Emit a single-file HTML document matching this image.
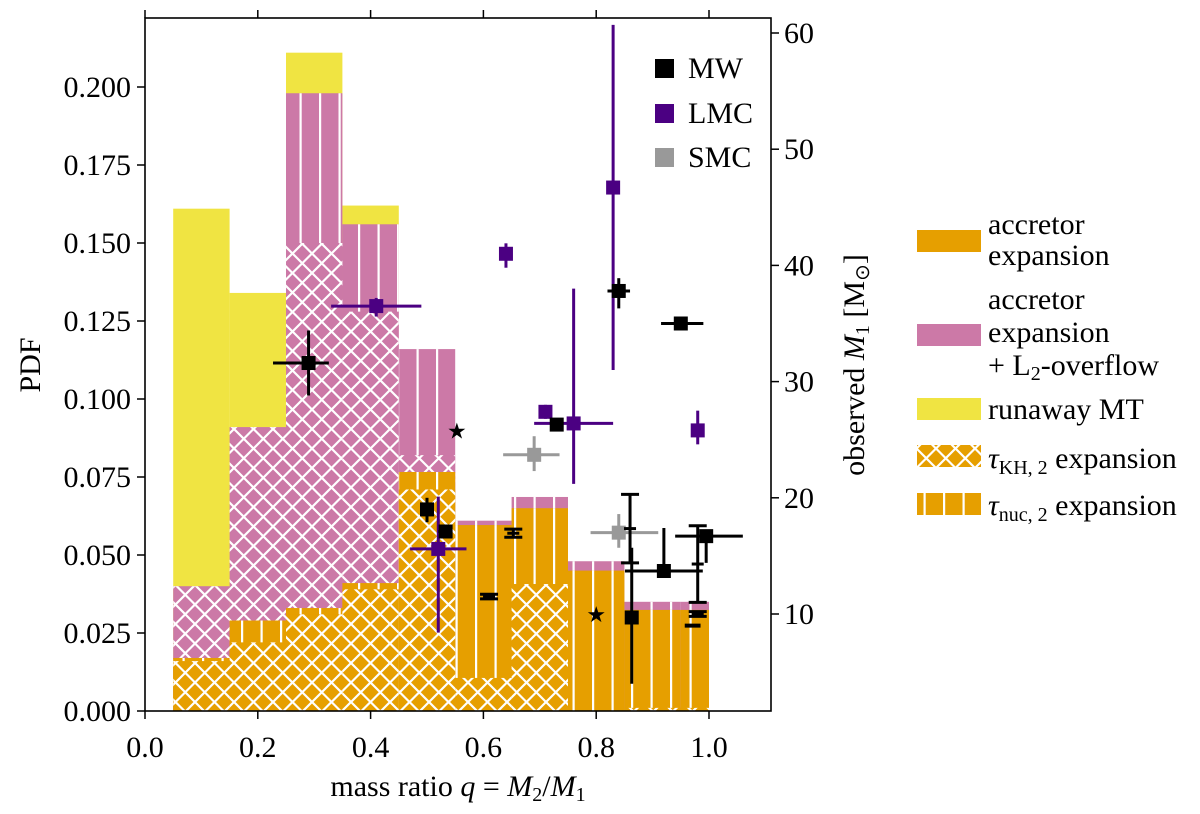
<!DOCTYPE html>
<html><head><meta charset="utf-8"><style>
body{margin:0;background:#fff}
svg{display:block;font-family:"Liberation Serif","DejaVu Serif",serif}
</style></head><body>
<svg id="c" width="1200" height="814" viewBox="0 0 1200 814" xmlns="http://www.w3.org/2000/svg">
<defs>
<pattern id="xh" patternUnits="userSpaceOnUse" width="19.5" height="19.5">
<path d="M-2,-2 L21.5,21.5 M-2,21.5 L21.5,-2 M-12,7.75 L7.75,-12 M11.75,31.5 L31.5,11.75 M-12,11.75 L7.75,31.5 M11.75,-12 L31.5,7.75" stroke="#fff" stroke-width="2.2"/>
</pattern>
<pattern id="vh" patternUnits="userSpaceOnUse" width="19.5" height="20" x="7">
<rect x="0" y="0" width="2.2" height="20" fill="#fff"/>
</pattern>
</defs>
<g id="bars"></g>
<g id="pts"></g>
<g id="axes"></g>
</svg>
<script>
const binEdges=[0.05,0.15,0.25,0.35,0.45,0.55,0.65,0.75,0.85,0.95,1.0];
const yellowTop=[0.161,0.134,0.211,0.162,0,0,0,0,0,0];
const pinkNuc=[0.017,0.029,0.198,0.156,0.116,0.061,0.0686,0.048,0.035,0.035];
const pinkKH=[0.040,0.091,0.150,0.128,0.082,0.059,0.041,0,0.001,0.001];
const orangeNuc=[0.017,0.029,0.033,0.041,0.0766,0.0596,0.065,0.045,0.0324,0.0324];
const orangeKH=[0.016,0.022,0.031,0.039,0.071,0.0106,0.0407,0,0.001,0.001];
const xTicks=[0.0,0.2,0.4,0.6,0.8,1.0];
const yTicks=[0,0.025,0.05,0.075,0.1,0.125,0.15,0.175,0.2];
const rTicks=[10,20,30,40,50,60];
// points: q, M, xlo, xhi, Mlo, Mhi
const mwPts=[[0.29,31.6,0.227,0.326,28.8,34.4],[0.50,19.0,0.50,0.50,17.9,20.0],[0.533,17.1,0.52,0.545,17.1,17.1],[0.73,26.3,0.72,0.74,26.3,26.3],[0.84,37.8,0.82,0.86,36.3,38.9],[0.95,35.0,0.915,0.99,34.4,35.6],[0.92,13.7,0.851,0.989,13.3,17.4],[0.863,9.7,0.863,0.863,4.0,15.7],[0.995,16.7,0.94,1.06,14.4,16.9]];
const lmcPts=[[0.41,36.5,0.33,0.49,35.6,37.2],[0.64,41.0,0.64,0.64,39.8,41.9],[0.83,46.7,0.83,0.83,31.0,60.7],[0.71,27.4,0.705,0.715,26.8,28.0],[0.76,26.4,0.69,0.83,21.2,38.0],[0.98,25.8,0.98,0.98,24.6,27.5],[0.52,15.6,0.47,0.57,8.4,20.1]];
const smcPts=[[0.69,23.7,0.635,0.735,22.3,25.3],[0.84,17.0,0.79,0.91,15.7,18.6]];
const capBars=[[0.86,14.4,20.3],[0.98,11.0,17.6],[0.653,16.6,17.3],[0.61,11.3,11.7],[0.98,9.8,10.2]];
const starPts=[[0.553,25.7],[0.80,9.9]];
const X=q=>145+q*564, Y=v=>711-v*3120, R=m=>614-(m-10)*11.62;
const NS='http://www.w3.org/2000/svg';
function mk(t,a,p){const e=document.createElementNS(NS,t);for(const k in a)e.setAttribute(k,a[k]);p.appendChild(e);return e;}
const gb=document.getElementById('bars');
function layer(arr,fill,hatch,name){
 for(let i=0;i<arr.length;i++){if(arr[i]<=0)continue;
  const x0=X(binEdges[i]),x1=X(binEdges[i+1]),y=Y(arr[i]);
  const r=mk('rect',{x:x0,y:y,width:x1-x0,height:711-y,fill:fill},gb);
  
  
  if(hatch){const h=mk('rect',{x:x0,y:y,width:x1-x0,height:711-y,fill:'url(#'+hatch+')'},gb);
   
   }
 }}
layer(yellowTop,'#f0e442',null,'runaway-mt');
layer(pinkNuc,'#cc79a7','vh','l2-nuc');
layer(pinkKH,'#cc79a7','xh','l2-kh');
layer(orangeNuc,'#e69f00','vh','accretor-nuc');
layer(orangeKH,'#e69f00','xh','accretor-kh');
const gp=document.getElementById('pts');
function pts(arr,col,name){arr.forEach(p=>{
 const g=mk('g',{stroke:col,'stroke-width':3},gp);
 
 
 mk('line',{x1:X(p[2]),x2:X(p[3]),y1:R(p[1]),y2:R(p[1])},g);
 mk('line',{x1:X(p[0]),x2:X(p[0]),y1:R(p[4]),y2:R(p[5])},g);
 mk('rect',{x:X(p[0])-7,y:R(p[1])-7,width:14,height:14,fill:col,stroke:'none'},g);
});}
pts(smcPts,'#999999','smc');
pts(lmcPts,'#4b0082','lmc');
pts(mwPts,'#000','mw');
capBars.forEach(c=>{const g=mk('g',{stroke:'#000','stroke-width':3},gp);
 
 
 const x=X(c[0]);mk('line',{x1:x,x2:x,y1:R(c[1]),y2:R(c[2])},g);
 mk('line',{x1:x-9,x2:x+9,y1:R(c[1]),y2:R(c[1])},g);
 mk('line',{x1:x-9,x2:x+9,y1:R(c[2]),y2:R(c[2])},g);
 mk('line',{x1:x-6,x2:x+6,y1:(R(c[1])+R(c[2]))/2,y2:(R(c[1])+R(c[2]))/2},g);});
const d=mk('line',{x1:X(0.957),x2:X(0.985),y1:R(9.0),y2:R(9.0),stroke:'#000','stroke-width':4},gp);


starPts.forEach(s=>{const t=mk('text',{x:X(s[0]),y:R(s[1])+7,'font-size':22,'text-anchor':'middle','font-family':'DejaVu Sans'},gp);t.textContent='★';
 
 });
const ga=document.getElementById('axes');
mk('rect',{x:145,y:18,width:626,height:693,fill:'none',stroke:'#000','stroke-width':1.6},ga);
xTicks.forEach(t=>{const x=X(t);
 mk('line',{x1:x,x2:x,y1:711,y2:719,stroke:'#000','stroke-width':1.5},ga);
 mk('line',{x1:x,x2:x,y1:18,y2:10,stroke:'#000','stroke-width':1.5},ga);
 const e=mk('text',{x:x,y:757,'font-size':30,'text-anchor':'middle'},ga);e.textContent=t.toFixed(1);
 
 });
yTicks.forEach(t=>{const y=Y(t);
 mk('line',{x1:145,x2:137,y1:y,y2:y,stroke:'#000','stroke-width':1.5},ga);
 const e=mk('text',{x:131,y:y+10,'font-size':30,'text-anchor':'end'},ga);e.textContent=t.toFixed(3);
 
 });
rTicks.forEach(t=>{const y=R(t);
 mk('line',{x1:771,x2:779,y1:y,y2:y,stroke:'#000','stroke-width':1.5},ga);
 const e=mk('text',{x:784,y:y+10,'font-size':30},ga);e.textContent=t;
 
 });
</script>
<svg style="position:absolute;left:0;top:0" width="1200" height="814">
<g font-family="Liberation Serif, serif" font-size="30">
<text x="458" y="796" text-anchor="middle">mass ratio <tspan font-style="italic">q</tspan> = <tspan font-style="italic">M</tspan><tspan font-size="20" dy="5">2</tspan><tspan dy="-5">/</tspan><tspan font-style="italic">M</tspan><tspan font-size="20" dy="5">1</tspan></text>
<text transform="translate(40,365) rotate(-90)" text-anchor="middle">PDF</text>
<text transform="translate(864,365) rotate(-90)" text-anchor="middle">observed <tspan font-style="italic">M</tspan><tspan font-size="20" dy="5">1</tspan><tspan dy="-5"> [M</tspan><tspan font-size="20" dy="5">⊙</tspan><tspan dy="-5">]</tspan></text>
<g>
<rect x="655" y="59" width="19" height="19" fill="#000"/><text x="688" y="78">MW</text>
<rect x="655" y="104" width="19" height="19" fill="#4b0082"/><text x="688" y="123">LMC</text>
<rect x="655" y="148" width="19" height="19" fill="#999"/><text x="688" y="167">SMC</text>
</g>
<g>
<rect x="917" y="230" width="64" height="22" fill="#e69f00"/>
<text x="988" y="234">accretor</text><text x="988" y="265">expansion</text>
<rect x="917" y="324" width="64" height="22" fill="#cc79a7"/>
<text x="988" y="309">accretor</text><text x="988" y="342">expansion</text><text x="988" y="375">+ L<tspan font-size="20" dy="5">2</tspan><tspan dy="-5">-overflow</tspan></text>
<rect x="917" y="398" width="64" height="22" fill="#f0e442"/>
<text x="988" y="419">runaway MT</text>
<rect x="917" y="445" width="64" height="22" fill="#e69f00"/><rect x="917" y="445" width="64" height="22" fill="url(#xh)"/>
<text x="988" y="468"><tspan font-style="italic">τ</tspan><tspan font-size="20" dy="6">KH, 2</tspan><tspan dy="-6"> expansion</tspan></text>
<rect x="917" y="493" width="64" height="22" fill="#e69f00"/><rect x="917" y="493" width="64" height="22" fill="url(#vh)"/>
<text x="988" y="515"><tspan font-style="italic">τ</tspan><tspan font-size="20" dy="6">nuc, 2</tspan><tspan dy="-6"> expansion</tspan></text>
</g>
</g>
</svg>
</body></html>
